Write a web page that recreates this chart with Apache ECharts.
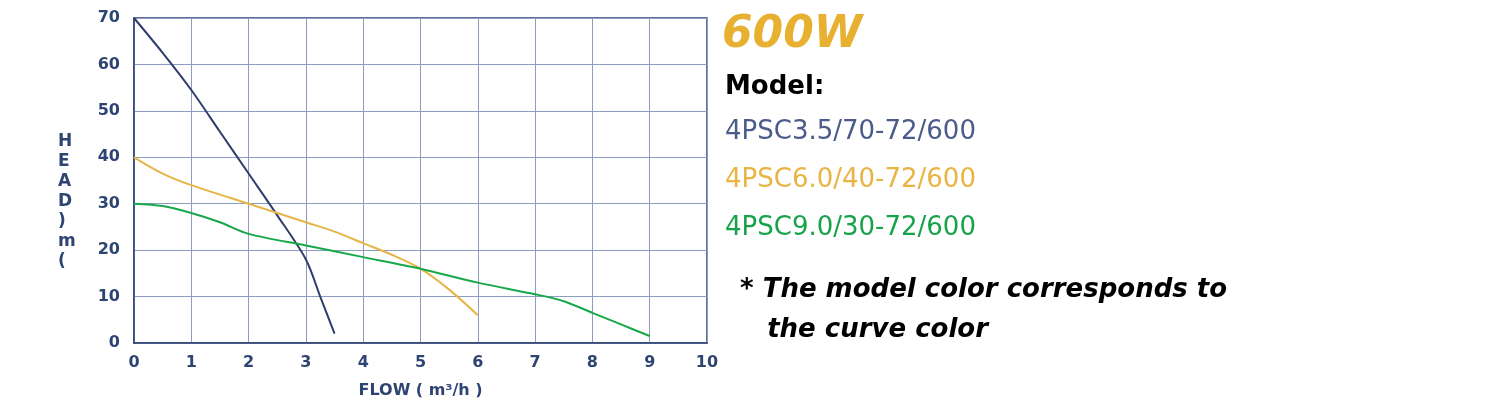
<!DOCTYPE html>
<html><head><meta charset="utf-8">
<script src="https://cdn.jsdelivr.net/npm/echarts@6/dist/echarts.min.js"></script>
<style>html,body{margin:0;padding:0;background:#fff}#c{width:1500px;height:415px}</style>
</head><body><div id="c"></div>
<script>
const navyData = [[0,70],[0.5,62.5],[1,54.5],[1.5,45.5],[2,36.5],[2.5,27.5],[3,18],[3.25,10],[3.5,2]];
const yellowData = [[0,40],[0.5,36.5],[1,34],[2,30],[3,26],[3.5,24],[4,21.5],[4.5,19],[5,16],[5.5,11.5],[6,6]];
const greenData = [[0,30],[0.5,29.5],[1,28],[1.5,26],[2,23.5],[3,21],[4,18.5],[5,16],[6,13],[7,10.5],[7.5,9],[8,6.5],[8.5,4],[9,1.5]];
const models = ['4PSC3.5/70-72/600','4PSC6.0/40-72/600','4PSC9.0/30-72/600'];
const colors = ['#2f3d6e','#e6b547','#18a84a'];
const textColors = ['#4b5b8a','#e8b443','#17a34a'];
const axisColor = '#2e4472';
const F = 'DejaVu Sans';
const chart = echarts.init(document.getElementById('c'));
const mk = (d,i)=>({type:'line',data:d,smooth:0.3,symbol:'none',lineStyle:{color:colors[i],width:2}});
chart.setOption({
  animation:false,
  grid:{left:134,right:793,top:18,bottom:72,show:true,borderColor:axisColor,borderWidth:1.5},
  xAxis:{type:'value',min:0,max:10,interval:1,
    axisLine:{lineStyle:{color:axisColor,width:1.5}},axisTick:{show:false},
    axisLabel:{color:axisColor,fontFamily:F,fontWeight:'bold',fontSize:16,margin:12},
    splitLine:{lineStyle:{color:'#8c9cc0',width:1}},
    name:'FLOW ( m³/h )',nameLocation:'middle',nameGap:40,
    nameTextStyle:{color:axisColor,fontFamily:F,fontWeight:'bold',fontSize:16}},
  yAxis:{type:'value',min:0,max:70,interval:10,
    axisLine:{show:true,lineStyle:{color:axisColor,width:1.5}},axisTick:{show:false},
    axisLabel:{color:axisColor,fontFamily:F,fontWeight:'bold',fontSize:16,margin:14},
    splitLine:{lineStyle:{color:'#8c9cc0',width:1}}},
  graphic:[
    {type:'text',left:58,top:132,style:{text:'H\nE\nA\nD\n)\nm\n(',fill:axisColor,font:'bold 17px "DejaVu Sans"',lineHeight:20,align:'center'}},
    {type:'text',left:722,top:14,style:{text:'600W',fill:'#e8b030',font:'italic bold 44px "DejaVu Sans"'}},
    {type:'text',left:725,top:74,style:{text:'Model:',fill:'#000',font:'bold 26px "DejaVu Sans"'}},
    ...models.map((m,i)=>({type:'text',left:725,top:119+i*48,style:{text:m,fill:textColors[i],font:'26px "DejaVu Sans"'}})),
    {type:'text',left:740,top:270,style:{text:'* The model color corresponds to\n   the curve color',fill:'#000',font:'italic bold 26px "DejaVu Sans"',lineHeight:40}}
  ],
  series:[mk(navyData,0),mk(yellowData,1),mk(greenData,2)]
});
</script></body></html>
